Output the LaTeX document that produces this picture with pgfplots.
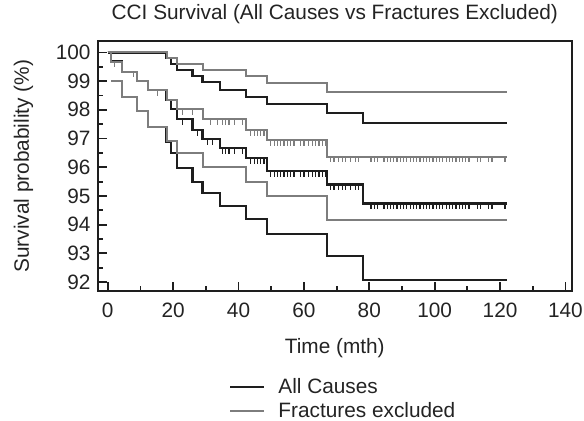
\documentclass[border=0pt]{standalone}
\usepackage{pgfplots}
\pgfplotsset{compat=1.18}
\usepackage{fontspec}
\setmainfont{Liberation Sans}
\definecolor{darkc}{RGB}{30,30,30}
\definecolor{grayc}{RGB}{125,125,125}
\definecolor{txtc}{RGB}{35,35,35}
\pgfdeclareplotmark{cens}{\pgfpathmoveto{\pgfqpoint{0pt}{0pt}}\pgfpathlineto{\pgfqpoint{0pt}{-2.8pt}}\pgfusepathqstroke}
\begin{document}
\begin{tikzpicture}
\begin{axis}[
  scale only axis, width=237.2pt, height=124.75pt,
  xmin=-3.1, xmax=142, ymin=91.69, ymax=100.38,
  xtick={0,20,...,140}, minor xtick={10,30,...,130},
  ytick={92,93,...,100}, minor ytick={92.5,93.5,...,99.5},
  tick align=inside, tick pos=left,
  major tick length=4.7pt, minor tick length=2.6pt,
  axis line style={line width=1pt, darkc},
  every tick/.style={line width=0.9pt, darkc},
  font=\fontsize{10.4}{12.5}\selectfont,
  /pgf/number format/assume math mode=true,
  ticklabel style={text=txtc},
  title={CCI Survival (All Causes vs Fractures Excluded)},
  title style={text=txtc, at={(axis description cs:0.5,1)}, anchor=south, yshift=-0.5pt},
  xlabel={Time (mth)},
  xlabel style={text=txtc, at={(axis description cs:0.5,-0.2285)}, anchor=center},
  ylabel={Survival probability (\%)},
  ylabel style={text=txtc, at={(axis description cs:-0.156,0.5)}, anchor=center},
  xticklabel style={yshift=-2.5pt},
  legend style={at={(axis description cs:0.52,-0.315)}, anchor=north, draw=none, fill=none,
    font=\fontsize{10.4}{12.5}\selectfont, text=txtc, row sep=-1pt},
  legend cell align=left,
  legend image code/.code={\draw[#1] (0pt,0pt) -- (17pt,0pt); \path (21.5pt,0pt);},
]
% ---- All Causes (black) ----
\addplot[const plot, darkc, line width=1.1pt, forget plot] coordinates {
(0,100) (18.0,99.80) (19.3,99.60) (21.2,99.39) (25.9,99.19) (29.0,98.98) (34.4,98.69) (42.2,98.44) (48.8,98.20) (67.1,97.88) (78.1,97.53) (122,97.53)};
\addplot[const plot, darkc, line width=1.1pt, forget plot] coordinates {
(0,100) (1.0,99.68) (4.3,99.33) (9.0,99.00) (12.2,98.69) (18.0,98.34) (19.3,98.02) (21.2,97.68) (25.9,97.30) (29.0,96.98) (34.4,96.66) (42.2,96.31) (48.8,95.87) (67.1,95.40) (78.1,94.74) (122,94.74)};
\addplot[const plot, darkc, line width=1.1pt, forget plot] coordinates {
(1.0,99.00) (4.3,98.46) (9.0,97.96) (12.2,97.39) (18.0,96.90) (19.3,96.49) (21.2,95.96) (25.9,95.50) (29.0,95.09) (34.4,94.65) (42.2,94.19) (48.8,93.67) (67.1,92.91) (78.1,92.08) (122,92.08)};
\addplot[only marks, mark=cens, darkc, mark options={line width=0.6pt}, forget plot] coordinates {
(2.0,99.68) (7.9,99.33) (15.2,98.69) (22.9,97.68) (27.4,97.30)
(30.5,96.98) (32.0,96.98)
(35.1,96.66) (36.1,96.66) (37.1,96.66) (38.7,96.66) (41.2,96.66)
(43.7,96.31) (44.8,96.31) (45.8,96.31) (46.8,96.31) (47.8,96.31)
(49.8,95.87) (50.9,95.87) (51.9,95.87) (52.9,95.87) (53.9,95.87) (55.0,95.87) (56.0,95.87) (57.0,95.87) (59.0,95.87) (60.0,95.87) (61.5,95.87) (62.6,95.87) (63.6,95.87) (64.6,95.87) (65.6,95.87) (66.6,95.87)
(68.2,95.40) (69.2,95.40) (70.7,95.40) (71.7,95.40) (72.7,95.40) (74.3,95.40) (75.8,95.40) (76.8,95.40)
(80.5,94.74) (81.5,94.74) (82.5,94.74) (84.5,94.74) (85.5,94.74) (86.5,94.74) (87.5,94.74) (88.5,94.74) (89.5,94.74) (90.5,94.74) (91.5,94.74) (92.5,94.74) (93.5,94.74) (94.5,94.74) (95.5,94.74) (96.5,94.74) (97.5,94.74) (98.5,94.74) (99.5,94.74) (100.5,94.74) (101.5,94.74) (102.5,94.74) (103.5,94.74) (104.5,94.74) (105.5,94.74) (106.5,94.74) (107.5,94.74) (108.5,94.74) (109.5,94.74) (110.5,94.74) (113.0,94.74) (114.0,94.74) (116.5,94.74) (117.5,94.74) (121.5,94.74)};
% ---- Fractures excluded (gray) ----
\addplot[const plot, grayc, line width=1pt, forget plot] coordinates {
(0,100) (18.0,99.80) (21.2,99.60) (29.0,99.39) (42.2,99.19) (48.8,98.95) (67.1,98.63) (122,98.63)};
\addplot[const plot, grayc, line width=1pt, forget plot] coordinates {
(0,100) (1.0,99.68) (4.3,99.33) (9.0,99.00) (12.2,98.69) (18.0,98.34) (21.2,98.02) (29.0,97.68) (42.2,97.30) (48.8,96.95) (67.1,96.37) (122,96.37)};
\addplot[const plot, grayc, line width=1pt, forget plot] coordinates {
(1.0,99.00) (4.3,98.46) (9.0,97.96) (12.2,97.39) (18.0,96.90) (21.2,96.49) (29.0,96.02) (42.2,95.49) (48.8,94.99) (67.1,94.18) (122,94.18)};
\addplot[only marks, mark=cens, grayc, mark options={line width=0.6pt}, forget plot] coordinates {
(2.0,99.68) (7.9,99.33) (15.2,98.69) (22.9,98.02) (26.0,98.02)
(31.5,97.68) (33.6,97.68) (35.1,97.68) (36.1,97.68) (37.1,97.68) (38.7,97.68) (41.2,97.68)
(43.7,97.30) (44.8,97.30) (45.8,97.30) (46.8,97.30) (47.8,97.30)
(49.8,96.95) (50.9,96.95) (51.9,96.95) (52.9,96.95) (53.9,96.95) (55.0,96.95) (56.0,96.95) (57.0,96.95) (59.0,96.95) (60.0,96.95) (61.5,96.95) (62.6,96.95) (63.6,96.95) (64.6,96.95) (65.6,96.95) (66.6,96.95)
(68.2,96.37) (69.2,96.37) (70.7,96.37) (71.7,96.37) (72.7,96.37) (74.3,96.37) (75.8,96.37) (76.8,96.37)
(80.5,96.37) (81.5,96.37) (82.5,96.37) (84.5,96.37) (85.5,96.37) (86.5,96.37) (87.5,96.37) (88.5,96.37) (89.5,96.37) (90.5,96.37) (91.5,96.37) (92.5,96.37) (93.5,96.37) (94.5,96.37) (95.5,96.37) (96.5,96.37) (97.5,96.37) (98.5,96.37) (99.5,96.37) (100.5,96.37) (101.5,96.37) (102.5,96.37) (103.5,96.37) (104.5,96.37) (105.5,96.37) (106.5,96.37) (107.5,96.37) (108.5,96.37) (109.5,96.37) (110.5,96.37) (113.0,96.37) (114.0,96.37) (116.5,96.37) (117.5,96.37) (121.5,96.37)};
\addlegendimage{darkc, line width=1.1pt}
\addlegendentry{All Causes}
\addlegendimage{grayc, line width=1pt}
\addlegendentry{Fractures excluded}
\end{axis}
\pgfresetboundingbox
\path (-48.8pt,-65pt) rectangle (243.2pt,145.5pt);
\end{tikzpicture}
\end{document}
